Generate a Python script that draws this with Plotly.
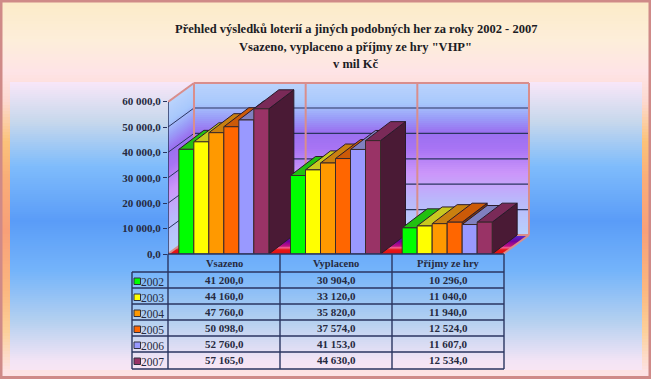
import plotly.graph_objects as go

# ---- data ----
categories = ["Vsazeno", "Vyplaceno", "Příjmy ze hry"]
years = ["2002", "2003", "2004", "2005", "2006", "2007"]
v2002 = [41200, 30904, 10296]
v2003 = [44160, 33120, 11040]
v2004 = [47760, 35820, 11940]
v2005 = [50098, 37574, 12524]
v2006 = [52760, 41153, 11607]
v2007 = [57165, 44630, 12534]
series = [v2002, v2003, v2004, v2005, v2006, v2007]
y_ticks = [0, 10000, 20000, 30000, 40000, 50000, 60000]
title_lines = ['Přehled výsledků loterií a jiných podobných her za roky 2002 - 2007',
               'Vsazeno, vyplaceno a příjmy ze hry "VHP"', 'v mil Kč']

front = ["#00ff00", "#ffff00", "#ff9900", "#ff6600", "#9999ff", "#993366"]
top = ["#22c010", "#c8c820", "#c98010", "#cc5a08", "#8080c0", "#7a2a58"]
side = ["#107010", "#808010", "#805010", "#803808", "#505080", "#4a1a35"]

W, H = 651, 379
FONT = "Liberation Serif"
INK = "#262a40"
NAVY = "#2a3560"
ROSE = "#d98e8c"


def fmt(v):
    return f"{v:,.1f}".replace(",", " ").replace(".", ",")


def px(x):
    return x / W


def py(y):
    return 1 - y / H


def hex2rgb(c):
    return tuple(int(c[i:i + 2], 16) for i in (1, 3, 5))


def ramp(stops, t):
    for (a, ca), (b, cb) in zip(stops, stops[1:]):
        if t <= b:
            f = 0 if b == a else max(0, (t - a) / (b - a))
            ra, rb = hex2rgb(ca), hex2rgb(cb)
            return "rgb(%d,%d,%d)" % tuple(round(p + (q - p) * f) for p, q in zip(ra, rb))
    return stops[-1][1]


# ---- geometry of the oblique projection ----
X0, X3, Y0 = 168, 503, 254
UNIT = (X3 - X0) / 3
PER = 152.4 / 60000          # pixels per value unit
XMAX_PX, YTOP_PX = 536, 76
xr = [-0.5, -0.5 + (XMAX_PX - X0) / UNIT]
yr = [0, (Y0 - YTOP_PX) / PER]
DX = 26 / UNIT               # depth of the walls
DY = 19 / PER
BDX = 25 / UNIT              # depth of the bars
BDY = 19 / PER
YWALL = (Y0 - 102) / PER
L, R = -0.5, 2.5

shapes = []


def rect_px(x0, y0, x1, y1, color):
    shapes.append(dict(type="rect", xref="paper", yref="paper", x0=px(x0), x1=px(x1), y0=py(y0), y1=py(y1),
                       fillcolor=color, line=dict(width=0), layer="below"))


def line_px(x0, y0, x1, y1, color, w):
    shapes.append(dict(type="line", xref="paper", yref="paper", x0=px(x0), x1=px(x1), y0=py(y0), y1=py(y1),
                       line=dict(color=color, width=w), layer="above"))


def poly(points, color, line=None, w=0):
    d = "M" + "L".join(f"{a},{b}" for a, b in points) + "Z"
    shapes.append(dict(type="path", xref="x", yref="y", path=d, fillcolor=color,
                       line=dict(color=line or color, width=w), layer="below"))


def seg(a, b, c, d, color, w):
    shapes.append(dict(type="line", xref="x", yref="y", x0=a, y0=b, x1=c, y1=d,
                       line=dict(color=color, width=w), layer="below"))


# outer gradient
outer = [(0, "#fcebc8"), (40, "#fdeeda"), (70, "#fee4e6"), (100, "#fdd9d0"), (140, "#fbc27a"),
         (180, "#f9ac78"), (230, "#f8a078"), (290, "#fbb880"), (330, "#fcd09a"), (370, "#fde2e4"), (379, "#fde2e4")]
for y in range(0, H, 3):
    rect_px(0, y, W, H, ramp(outer, y))
# inner panel
panel = [(82, "#f7e6f8"), (120, "#c8d8ec"), (165, "#7fbcfb"), (220, "#5a9cf8"), (270, "#74b4fa"),
         (320, "#b4d0f0"), (360, "#f3e4f5"), (371, "#f9e6f3")]
for y in range(82, 370, 2):
    rect_px(10, y, 642, 370, ramp(panel, y))
# rim
for a in [(0, 0, W, 2.5), (0, 0, 2.5, H), (W - 2.5, 0, W, H), (0, H - 3, W, H)]:
    rect_px(*a, "#cf8a88")

# left and back walls (gradient runs along the value axis)
wall = [(0, "#b8d0fc"), (0.22, "#bab8fb"), (0.40, "#cc96fa"), (0.56, "#a874f4"),
        (0.67, "#9a70f0"), (0.76, "#9a9cf8"), (0.86, "#a8c8fc"), (1, "#bcd4fc")]
N = 76
for i in range(N):
    t = i / N
    v = t * YWALL
    c = ramp(wall, t)
    poly([(L, v), (L + DX, v + DY), (L + DX, YWALL + DY), (L, YWALL)], c)
for i in range(N):
    t = i / N
    v = t * YWALL
    poly([(L + DX, v + DY), (R + DX, v + DY), (R + DX, YWALL + DY), (L + DX, YWALL + DY)], ramp(wall, t))

# floor
floor = [(0, "#e01010"), (0.25, "#e81818"), (0.35, "#f06090"), (0.45, "#c01080"), (0.7, "#7000a0"), (1, "#5030d0")]
M = 20
for i in range(M):
    t = 1 - i / M
    poly([(L, 0), (R, 0), (R + DX * t, DY * t), (L + DX * t, DY * t)], ramp(floor, t))

# grid
for v in y_ticks:
    if v == 0:
        continue
    if v < 60000:
        seg(L + DX, v + DY, R + DX, v + DY, NAVY, 1.2)
        seg(L, v, L + DX, v + DY, NAVY, 1)
for c in (0.5, 1.5):
    seg(c + DX, DY, c + DX, YWALL + DY, ROSE, 2)
for a in [(L + DX, DY, L + DX, YWALL + DY), (L + DX, YWALL + DY, R + DX, YWALL + DY),
          (R + DX, YWALL + DY, R + DX, DY), (L + DX, DY, R + DX, DY),
          (L, YWALL, L + DX, YWALL + DY), (R, 0, R + DX, DY), (L, 0, L + DX, DY)]:
    seg(*a, ROSE, 2)

# ---- traces ----
fig = go.Figure()
GROUP = 90 / UNIT
BW = GROUP / len(series)

# tops and sides, painted left to right (fronts are drawn above them on the overlay axes)
for c in range(len(categories)):
    for s, vals in enumerate(series):
        x0 = c - GROUP / 2 + s * BW
        x1 = x0 + BW
        v = vals[c]
        fig.add_trace(go.Scatter(x=[x1, x1 + BDX, x1 + BDX, x1, x1], y=[0, BDY, v + BDY, v, 0], mode="lines",
                                 fill="toself", fillcolor=side[s], line=dict(color="#2a1a2a", width=1),
                                 hoverinfo="skip", showlegend=False))
        fig.add_trace(go.Scatter(x=[x0, x1, x1 + BDX, x0 + BDX, x0], y=[v, v, v + BDY, v + BDY, v], mode="lines",
                                 fill="toself", fillcolor=top[s], line=dict(color="#2a1a2a", width=1),
                                 hoverinfo="skip", showlegend=False))

# value axis line
fig.add_trace(go.Scatter(x=[L, L], y=[0, YWALL], mode="lines", line=dict(color=NAVY, width=1.5),
                         hoverinfo="skip", showlegend=False))

for s, vals in enumerate(series):
    fig.add_trace(go.Bar(x=list(range(len(categories))), y=vals, name=years[s], xaxis="x2", yaxis="y2",
                         marker=dict(color=front[s], line=dict(color="#3a2a2a", width=1)), showlegend=False))

# ---- data table ----
col_x = [168, 280, 392, 504]
row_y = [254, 272, 288, 304, 320, 336, 352, 369]
ann = []
for i, t in enumerate(title_lines):
    ann.append(dict(xref="paper", yref="paper", x=px(355.5), y=py([29, 47, 64][i]), text=f"<b>{t}</b>", showarrow=False,
                    font=dict(family=FONT, size=12.5, color="#1c1c24"), xanchor="center", yanchor="middle"))
for c, cat in enumerate(categories):
    xc = (col_x[c] + col_x[c + 1]) / 2
    ann.append(dict(xref="paper", yref="paper", x=px(xc), y=py(263), text=f"<b>{cat}</b>", showarrow=False,
                    font=dict(family=FONT, size=10.5, color=INK), xanchor="center", yanchor="middle"))
    for s, vals in enumerate(series):
        ann.append(dict(xref="paper", yref="paper", x=px(xc), y=py(279.5 + 16 * s), text=f"<b>{fmt(vals[c])}</b>",
                        showarrow=False, font=dict(family=FONT, size=11, color=INK),
                        xanchor="center", yanchor="middle"))
for s, yr_lab in enumerate(years):
    yc = 281.5 + 16 * s
    ann.append(dict(xref="paper", yref="paper", x=px(166), y=py(yc), text=yr_lab, showarrow=False,
                    font=dict(family=FONT, size=11.5, color=INK), xanchor="right", yanchor="middle"))
    shapes.append(dict(type="rect", xref="paper", yref="paper", x0=px(134), x1=px(140.5), y0=py(yc + 3), y1=py(yc - 3.5),
                       fillcolor=front[s], line=dict(color="#303040", width=1), layer="above"))
for y in row_y:
    line_px(168 if y == 254 else 132, y, 504, y, NAVY, 1.4)
for x in col_x:
    line_px(x, 254, x, 369, NAVY, 1.4)
line_px(132, 272, 132, 369, NAVY, 1.4)

fig.update_layout(
    template="none",
    width=W, height=H, autosize=False, margin=dict(l=0, r=0, t=0, b=0, pad=0, autoexpand=False),
    paper_bgcolor="rgba(0,0,0,0)", plot_bgcolor="rgba(0,0,0,0)",
    barmode="group", bargap=1 - GROUP, bargroupgap=0,
    shapes=shapes, annotations=ann, showlegend=False,
    xaxis=dict(domain=[px(X0), px(XMAX_PX)], range=xr, visible=False, fixedrange=True, automargin=False),
    yaxis=dict(domain=[py(Y0), py(YTOP_PX)], range=yr, tickvals=y_ticks, ticktext=[fmt(v) for v in y_ticks],
               ticks="outside", ticklen=4, tickcolor=NAVY, tickwidth=1, showgrid=False, zeroline=False,
               showline=False, tickfont=dict(family=FONT, size=11, color=INK, weight="bold"),
               fixedrange=True, automargin=False),
    xaxis2=dict(domain=[px(X0), px(XMAX_PX)], range=xr, visible=False, overlaying="x", matches="x",
                fixedrange=True, automargin=False),
    yaxis2=dict(domain=[py(Y0), py(YTOP_PX)], range=yr, visible=False, overlaying="y", matches="y",
                fixedrange=True, automargin=False),
)
fig.write_html("out.html", config=dict(displayModeBar=False),
               post_script="document.body.style.margin='0';document.body.style.overflow='hidden';")
